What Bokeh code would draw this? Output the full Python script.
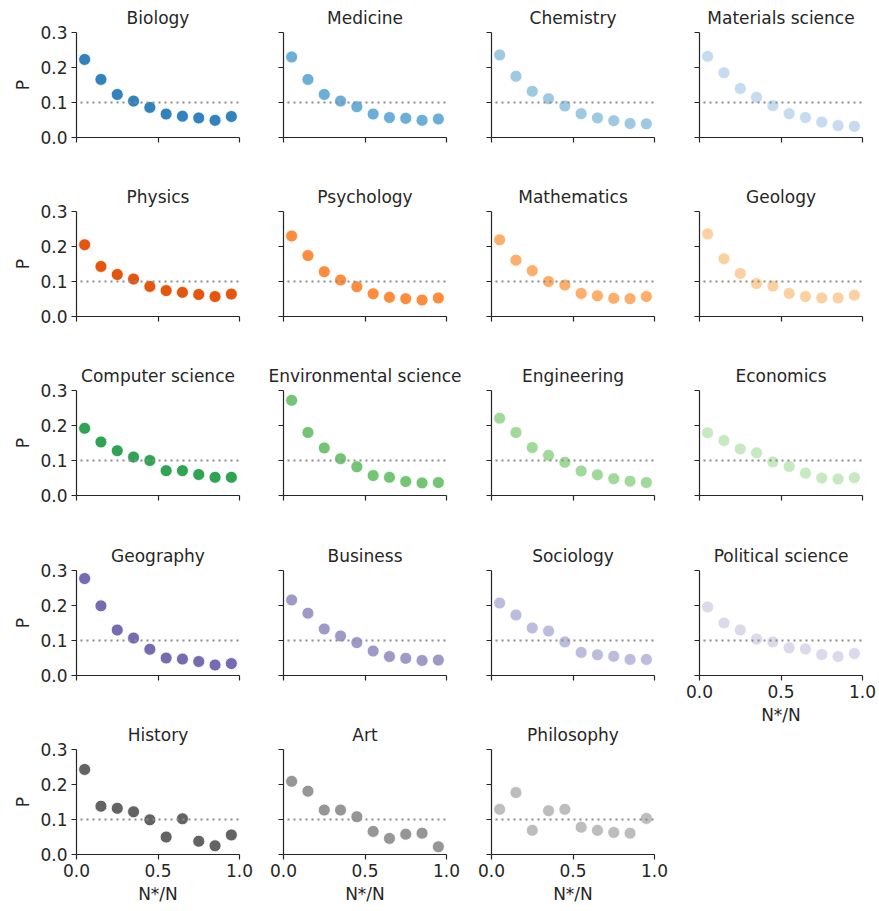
from bokeh.plotting import figure
from bokeh.layouts import column, row
from bokeh.models import Range1d, Span, FixedTicker, PrintfTickFormatter
from bokeh.embed import file_html
from bokeh.resources import INLINE

# ---------------- data ----------------
x_bins = [0.05, 0.15, 0.25, 0.35, 0.45, 0.55, 0.65, 0.75, 0.85, 0.95]

fields = ["Biology", "Medicine", "Chemistry", "Materials science",
          "Physics", "Psychology", "Mathematics", "Geology",
          "Computer science", "Environmental science", "Engineering", "Economics",
          "Geography", "Business", "Sociology", "Political science",
          "History", "Art", "Philosophy"]

colors = ["#3182bd", "#6baed6", "#9ecae1", "#c6dbef",
          "#e6550d", "#fd8d3c", "#fdae6b", "#fdd0a2",
          "#31a354", "#74c476", "#a1d99b", "#c7e9c0",
          "#756bb1", "#9e9ac8", "#bcbddc", "#dadaeb",
          "#636363", "#969696", "#bdbdbd"]

biology = [0.223, 0.166, 0.123, 0.104, 0.086, 0.067, 0.061, 0.056, 0.049, 0.060]
medicine = [0.230, 0.166, 0.123, 0.104, 0.088, 0.067, 0.057, 0.055, 0.049, 0.053]
chemistry = [0.236, 0.175, 0.132, 0.111, 0.090, 0.068, 0.056, 0.048, 0.040, 0.039]
materials_science = [0.232, 0.185, 0.140, 0.115, 0.091, 0.068, 0.057, 0.044, 0.034, 0.032]
physics = [0.205, 0.143, 0.120, 0.107, 0.086, 0.074, 0.069, 0.063, 0.057, 0.064]
psychology = [0.230, 0.174, 0.128, 0.104, 0.085, 0.065, 0.055, 0.051, 0.047, 0.053]
mathematics = [0.219, 0.161, 0.131, 0.100, 0.090, 0.066, 0.059, 0.052, 0.051, 0.057]
geology = [0.236, 0.165, 0.123, 0.094, 0.087, 0.066, 0.057, 0.053, 0.053, 0.061]
computer_science = [0.192, 0.153, 0.128, 0.110, 0.100, 0.071, 0.071, 0.060, 0.052, 0.052]
environmental_science = [0.272, 0.180, 0.136, 0.105, 0.082, 0.057, 0.052, 0.040, 0.036, 0.037]
engineering = [0.221, 0.180, 0.137, 0.115, 0.095, 0.070, 0.059, 0.048, 0.041, 0.037]
economics = [0.179, 0.157, 0.133, 0.122, 0.096, 0.083, 0.064, 0.050, 0.047, 0.051]
geography = [0.277, 0.199, 0.130, 0.107, 0.075, 0.050, 0.047, 0.040, 0.030, 0.034]
business = [0.216, 0.178, 0.133, 0.113, 0.094, 0.070, 0.054, 0.049, 0.043, 0.044]
sociology = [0.207, 0.173, 0.136, 0.127, 0.096, 0.066, 0.059, 0.055, 0.046, 0.046]
political_science = [0.196, 0.150, 0.130, 0.104, 0.096, 0.079, 0.076, 0.060, 0.054, 0.063]
history = [0.243, 0.138, 0.132, 0.122, 0.099, 0.050, 0.102, 0.038, 0.025, 0.056]
art = [0.209, 0.181, 0.127, 0.127, 0.108, 0.066, 0.046, 0.058, 0.061, 0.022]
philosophy = [0.129, 0.177, 0.069, 0.125, 0.129, 0.078, 0.069, 0.063, 0.061, 0.103]

series = [biology, medicine, chemistry, materials_science,
          physics, psychology, mathematics, geology,
          computer_science, environmental_science, engineering, economics,
          geography, business, sociology, political_science,
          history, art, philosophy]

y_ticks = [0.0, 0.1, 0.2, 0.3]
x_ticks = [0.0, 0.5, 1.0]
threshold = 0.1

# ---------------- style ----------------
FONT = "DejaVu Sans"
TXT = "#262626"
FS = "17px"
LEFT = [76, 22, 23, 23]
RIGHT = [22, 22, 22, 14]
TOP = [32, 32, 32, 32, 32]
BOTTOM = [42, 42, 43, 42, 50]


def style_axis(ax, labelled, label_text):
    ax.axis_line_color = TXT
    ax.axis_line_width = 1.2
    for kind in ("major", "minor"):
        setattr(ax, kind + "_tick_line_color", TXT)
        setattr(ax, kind + "_tick_line_width", 1.2)
        setattr(ax, kind + "_tick_in", 0)
        setattr(ax, kind + "_tick_out", 5)
    ax.major_label_text_font = FONT
    ax.major_label_text_font_size = FS
    ax.major_label_text_color = TXT
    ax.major_label_standoff = 4
    ax.axis_label_text_font = FONT
    ax.axis_label_text_font_size = FS
    ax.axis_label_text_font_style = "normal"
    ax.axis_label_text_color = TXT
    ax.axis_label_standoff = 4
    ax.formatter = PrintfTickFormatter(format="%.1f")
    if labelled:
        ax.axis_label = label_text


def make_panel(i):
    r, c = divmod(i, 4)
    show_y = (c == 0)
    show_x = (r == 4) or (fields[i] == "Political science")
    bottom = 52 if show_x else BOTTOM[r]
    p = figure(frame_width=163, frame_height=105,
               x_range=Range1d(0, 1), y_range=Range1d(0, 0.3),
               min_border_left=LEFT[c], min_border_right=RIGHT[c],
               min_border_top=TOP[r], min_border_bottom=bottom,
               output_backend="svg", toolbar_location=None,
               title=fields[i])
    p.outline_line_color = None
    p.grid.visible = False
    p.background_fill_color = "white"
    p.border_fill_color = "white"

    p.title.align = "center"
    p.title.text_font = FONT
    p.title.text_font_size = FS
    p.title.text_font_style = "normal"
    p.title.text_color = TXT
    p.title.standoff = 10

    style_axis(p.xaxis[0], show_x, "N*/N")
    style_axis(p.yaxis[0], show_y, "P")

    # labelled axes get major ticks; others get label-free minor ticks only
    if show_x:
        p.xaxis.ticker = FixedTicker(ticks=x_ticks)
    else:
        p.xaxis.ticker = FixedTicker(ticks=[], minor_ticks=x_ticks)
    if show_y:
        p.yaxis.ticker = FixedTicker(ticks=y_ticks)
    else:
        p.yaxis.ticker = FixedTicker(ticks=[], minor_ticks=y_ticks)

    p.add_layout(Span(location=threshold, dimension="width",
                      line_color="#8c8c8c", line_width=2,
                      line_dash="2 4", line_dash_offset=2))
    p.scatter(x_bins, series[i], size=12, fill_color=colors[i],
              line_color="white", line_width=0.8)
    return p


panels = [make_panel(i) for i in range(len(fields))]
cols = [column(*[panels[i] for i in range(c, len(panels), 4)]) for c in range(4)]
layout = row(*cols)

open("out.html", "w").write(file_html(layout, INLINE))
